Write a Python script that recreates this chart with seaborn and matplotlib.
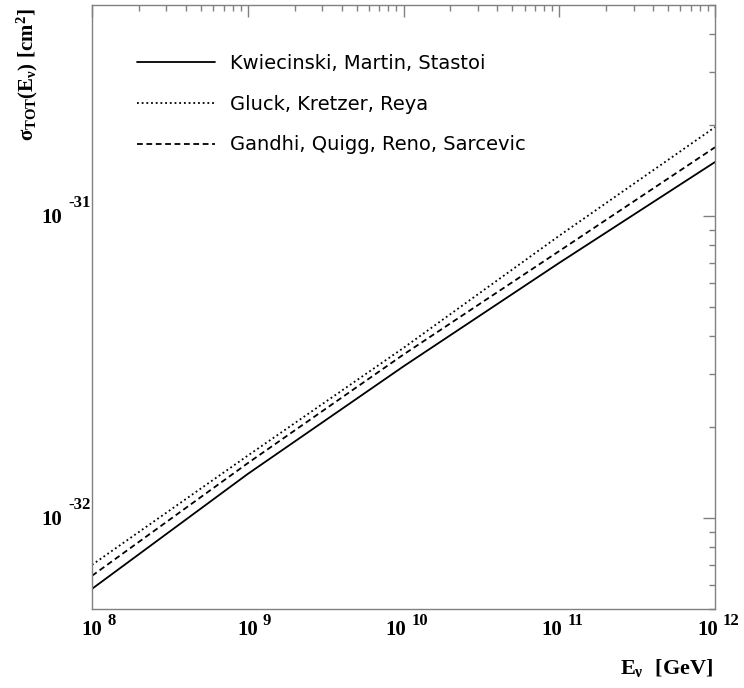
import matplotlib
matplotlib.use("Agg")
import matplotlib.pyplot as plt
from matplotlib import transforms
import numpy as np
import pandas as pd
import seaborn as sns

# ---- data ----
energy_gev = [1e8, 1e9, 1e10, 1e11, 1e12]
sigma_kms = [5.83e-33, 1.40e-32, 3.18e-32, 7.00e-32, 1.51e-31]
sigma_gkr = [7.00e-33, 1.61e-32, 3.66e-32, 8.61e-32, 1.97e-31]
sigma_gqrs = [6.44e-33, 1.52e-32, 3.48e-32, 7.66e-32, 1.69e-31]
model_names = ["Kwiecinski, Martin, Stastoi",
               "Gluck, Kretzer, Reya",
               "Gandhi, Quigg, Reno, Sarcevic"]
xtick_exponents = [8, 9, 10, 11, 12]
ytick_exponents = [-32, -31]

rows = []
for name, vals in zip(model_names, [sigma_kms, sigma_gkr, sigma_gqrs]):
    for e, s in zip(energy_gev, vals):
        rows.append({"E": e, "sigma": s, "model": name})
df = pd.DataFrame(rows)

sns.set_theme(style="white")
plt.rcParams["font.family"] = ["DejaVu Sans"]
plt.rcParams["text.color"] = "black"
plt.rcParams["axes.labelcolor"] = "black"
plt.rcParams["mathtext.fontset"] = "custom"
plt.rcParams["mathtext.rm"] = "Liberation Serif:bold"
plt.rcParams["mathtext.bf"] = "Liberation Serif:bold"
plt.rcParams["mathtext.it"] = "Liberation Serif:bold"
plt.rcParams["mathtext.sf"] = "Liberation Serif:bold"

fig = plt.figure(figsize=(7.44, 6.88), dpi=100)
ax = fig.add_axes([92 / 744, 1 - 609 / 688, 623 / 744, 604 / 688])

sns.lineplot(data=df, x="E", y="sigma", hue="model", style="model",
             hue_order=model_names, style_order=model_names,
             palette={n: "black" for n in model_names},
             dashes={model_names[0]: "", model_names[1]: (1, 1.6),
                     model_names[2]: (3.2, 2.0)},
             linewidth=1.3, estimator=None, sort=False, legend=False, ax=ax)

ax.set_xscale("log")
ax.set_yscale("log")
ax.set_xlim(1e8, 1e12)
ax.set_ylim(5e-33, 5e-31)

grey = "#808080"
for sp in ax.spines.values():
    sp.set_color(grey)
    sp.set_linewidth(1.0)
ax.tick_params(which="both", direction="in", top=True, right=True,
               colors=grey, labelleft=False, labelbottom=False)
ax.tick_params(which="major", length=8.5, width=1)
ax.tick_params(which="minor", length=4, width=1)

serif = dict(family="Liberation Serif", weight="bold", color="black")
for e in xtick_exponents:
    v = 10.0 ** e
    exp = str(e)
    shift = 10 if len(exp) == 1 else 3
    t1 = transforms.offset_copy(ax.get_xaxis_transform(), fig=fig,
                                x=shift, y=-21, units="dots")
    ax.text(v, 0, "10", transform=t1, ha="right", va="center",
            fontsize=15, clip_on=False, **serif)
    t2 = transforms.offset_copy(ax.get_xaxis_transform(), fig=fig,
                                x=shift + 5, y=-12, units="dots")
    ax.text(v, 0, exp, transform=t2, ha="left", va="center",
            fontsize=12, clip_on=False, **serif)

for e in ytick_exponents:
    v = 10.0 ** e
    t1 = transforms.offset_copy(ax.get_yaxis_transform(), fig=fig,
                                x=-30, y=-2, units="dots")
    ax.text(0, v, "10", transform=t1, ha="right", va="center",
            fontsize=15, clip_on=False, **serif)
    t2 = transforms.offset_copy(ax.get_yaxis_transform(), fig=fig,
                                x=-24, y=13, units="dots")
    ax.text(0, v, str(e), transform=t2, ha="left", va="center",
            fontsize=12, clip_on=False, **serif)

ax.set_ylabel(r"$\sigma_{TOT}(E_{\nu})\ [cm^{2}]$", fontsize=15, loc="top")
ax.yaxis.set_label_coords(-0.0835, 0.995)
ax.set_xlabel(r"$E_{\nu}\ \ [GeV]$", fontsize=16, loc="right")
ax.xaxis.set_label_coords(0.997, -0.08)

handles = ax.get_lines()[:3]
leg = ax.legend(handles, model_names, loc="upper left",
                bbox_to_anchor=(0.0722, 0.919), frameon=False,
                borderaxespad=0, borderpad=0, handlelength=4.0,
                handletextpad=0.77, labelspacing=1.12,
                prop={"family": "DejaVu Sans", "size": 14})
for t in leg.get_texts():
    t.set_color("black")

fig.savefig("out.png", dpi=100)
